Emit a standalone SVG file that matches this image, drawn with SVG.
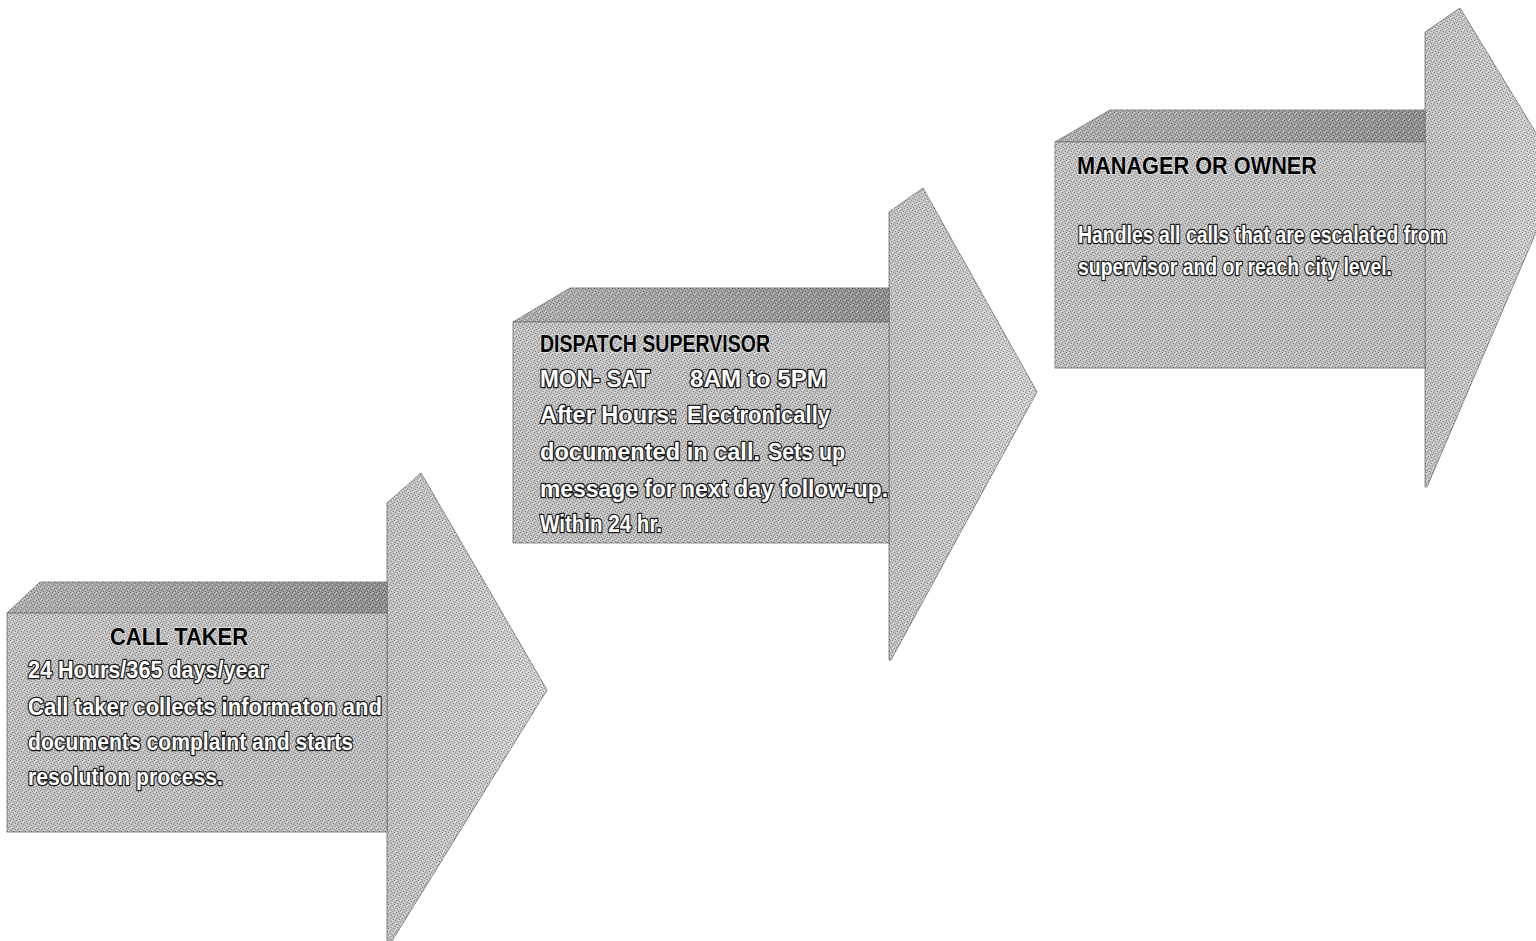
<svg xmlns="http://www.w3.org/2000/svg" width="1536" height="941" viewBox="0 0 1536 941">
  <defs>
    <linearGradient id="topGrad" x1="0" y1="0" x2="1" y2="0">
      <stop offset="0" stop-color="#b0b0b0"/>
      <stop offset="1" stop-color="#8e8e8e"/>
    </linearGradient>
    <linearGradient id="frontGrad" x1="0" y1="0" x2="1" y2="1">
      <stop offset="0" stop-color="#c2c2c2"/>
      <stop offset="1" stop-color="#bbbbbb"/>
    </linearGradient>
    <linearGradient id="headGrad" x1="0" y1="0" x2="1" y2="0">
      <stop offset="0" stop-color="#c0c0c0"/>
      <stop offset="0.6" stop-color="#c9c9c9"/>
      <stop offset="1" stop-color="#d0d0d0"/>
    </linearGradient>
    <pattern id="dither" width="6" height="6" patternUnits="userSpaceOnUse">
      <rect x="0" y="0" width="1" height="1" fill="#333333" fill-opacity="0.4"/>
      <rect x="3" y="1" width="1" height="1" fill="#333333" fill-opacity="0.4"/>
      <rect x="1" y="3" width="1" height="1" fill="#333333" fill-opacity="0.4"/>
      <rect x="4" y="4" width="1" height="1" fill="#333333" fill-opacity="0.4"/>
      <rect x="5" y="2" width="1" height="1" fill="#333333" fill-opacity="0.3"/>
      <rect x="2" y="5" width="1" height="1" fill="#333333" fill-opacity="0.3"/>
      <rect x="2" y="2" width="1" height="1" fill="#ffffff" fill-opacity="0.45"/>
      <rect x="5" y="5" width="1" height="1" fill="#ffffff" fill-opacity="0.45"/>
      <rect x="4" y="0" width="1" height="1" fill="#ffffff" fill-opacity="0.45"/>
      <rect x="0" y="4" width="1" height="1" fill="#ffffff" fill-opacity="0.45"/>
    </pattern>
  </defs>
  <style>
    .top { fill: url(#topGrad); stroke: #707070; stroke-width: 0.8; }
    .front { fill: url(#frontGrad); stroke: #707070; stroke-width: 0.8; }
    .head { fill: url(#headGrad); stroke: #707070; stroke-width: 0.8; }
    .grain { fill: url(#dither); stroke: none; }
    .title { font-family: "Liberation Sans", Arial, sans-serif; font-weight: bold; font-size: 24px; fill: #000000; stroke: #f0f0f0; stroke-width: 1.2; paint-order: stroke; }
    .body { font-family: "Liberation Sans", Arial, sans-serif; font-weight: bold; font-size: 23px; fill: #ffffff; stroke: #1c1c1c; stroke-width: 2.6; paint-order: stroke; stroke-linejoin: round; }
  </style>
  <rect width="1536" height="941" fill="#ffffff"/>

  <g id="connectors"/>

  <g id="call-taker">
    <polygon class="head" points="387,503 421,473 547,690 392,941 387,941"/>
    <polygon class="grain" points="387,503 421,473 547,690 392,941 387,941"/>
    <polygon class="top" points="7,613 40,582 387,582 387,613"/>
    <polygon class="grain" points="7,613 40,582 387,582 387,613"/>
    <rect class="front" x="7" y="613" width="380" height="219"/>
    <rect class="grain" x="7" y="613" width="380" height="219"/>
    <text class="title" x="110" y="645" textLength="138" lengthAdjust="spacingAndGlyphs">CALL TAKER</text>
    <text class="body" x="28" y="678" textLength="240" lengthAdjust="spacingAndGlyphs">24 Hours/365 days/year</text>
    <text class="body" x="28" y="715" textLength="354" lengthAdjust="spacingAndGlyphs">Call taker collects informaton and</text>
    <text class="body" x="28" y="750" textLength="325" lengthAdjust="spacingAndGlyphs">documents complaint and starts</text>
    <text class="body" x="28" y="785" textLength="195" lengthAdjust="spacingAndGlyphs">resolution process.</text>
  </g>

  <g id="dispatch-supervisor">
    <polygon class="head" points="889,212 923,188 1037,392 891,660 889,660"/>
    <polygon class="grain" points="889,212 923,188 1037,392 891,660 889,660"/>
    <polygon class="top" points="513,322 570,288 889,288 889,322"/>
    <polygon class="grain" points="513,322 570,288 889,288 889,322"/>
    <rect class="front" x="513" y="322" width="376" height="221"/>
    <rect class="grain" x="513" y="322" width="376" height="221"/>
    <text class="title" x="540" y="352" textLength="230" lengthAdjust="spacingAndGlyphs">DISPATCH SUPERVISOR</text>
    <text class="body" x="540" y="387" textLength="110" lengthAdjust="spacingAndGlyphs">MON- SAT</text>
    <text class="body" x="690" y="387" textLength="137" lengthAdjust="spacingAndGlyphs">8AM to 5PM</text>
    <text class="body" x="540" y="423" textLength="137" lengthAdjust="spacingAndGlyphs">After Hours:</text>
    <text class="body" x="687" y="423" textLength="143" lengthAdjust="spacingAndGlyphs">Electronically</text>
    <text class="body" x="540" y="460" textLength="220" lengthAdjust="spacingAndGlyphs">documented in call.</text>
    <text class="body" x="768" y="460" textLength="77" lengthAdjust="spacingAndGlyphs">Sets up</text>
    <text class="body" x="540" y="497" textLength="348" lengthAdjust="spacingAndGlyphs">message for next day follow-up.</text>
    <text class="body" x="540" y="532" textLength="122" lengthAdjust="spacingAndGlyphs">Within 24 hr.</text>
  </g>

  <g id="manager-or-owner">
    <polygon class="head" points="1425,32 1460,8 1561,174 1427,487 1425,487"/>
    <polygon class="grain" points="1425,32 1460,8 1561,174 1427,487 1425,487"/>
    <polygon class="top" points="1055,142 1110,110 1425,110 1425,142"/>
    <polygon class="grain" points="1055,142 1110,110 1425,110 1425,142"/>
    <rect class="front" x="1055" y="142" width="370" height="226"/>
    <rect class="grain" x="1055" y="142" width="370" height="226"/>
    <text class="title" x="1077" y="174" textLength="240" lengthAdjust="spacingAndGlyphs">MANAGER OR OWNER</text>
    <text class="body" x="1078" y="243" textLength="369" lengthAdjust="spacingAndGlyphs">Handles all calls that are escalated from</text>
    <text class="body" x="1078" y="275" textLength="314" lengthAdjust="spacingAndGlyphs">supervisor and or reach city level.</text>
  </g>
</svg>
